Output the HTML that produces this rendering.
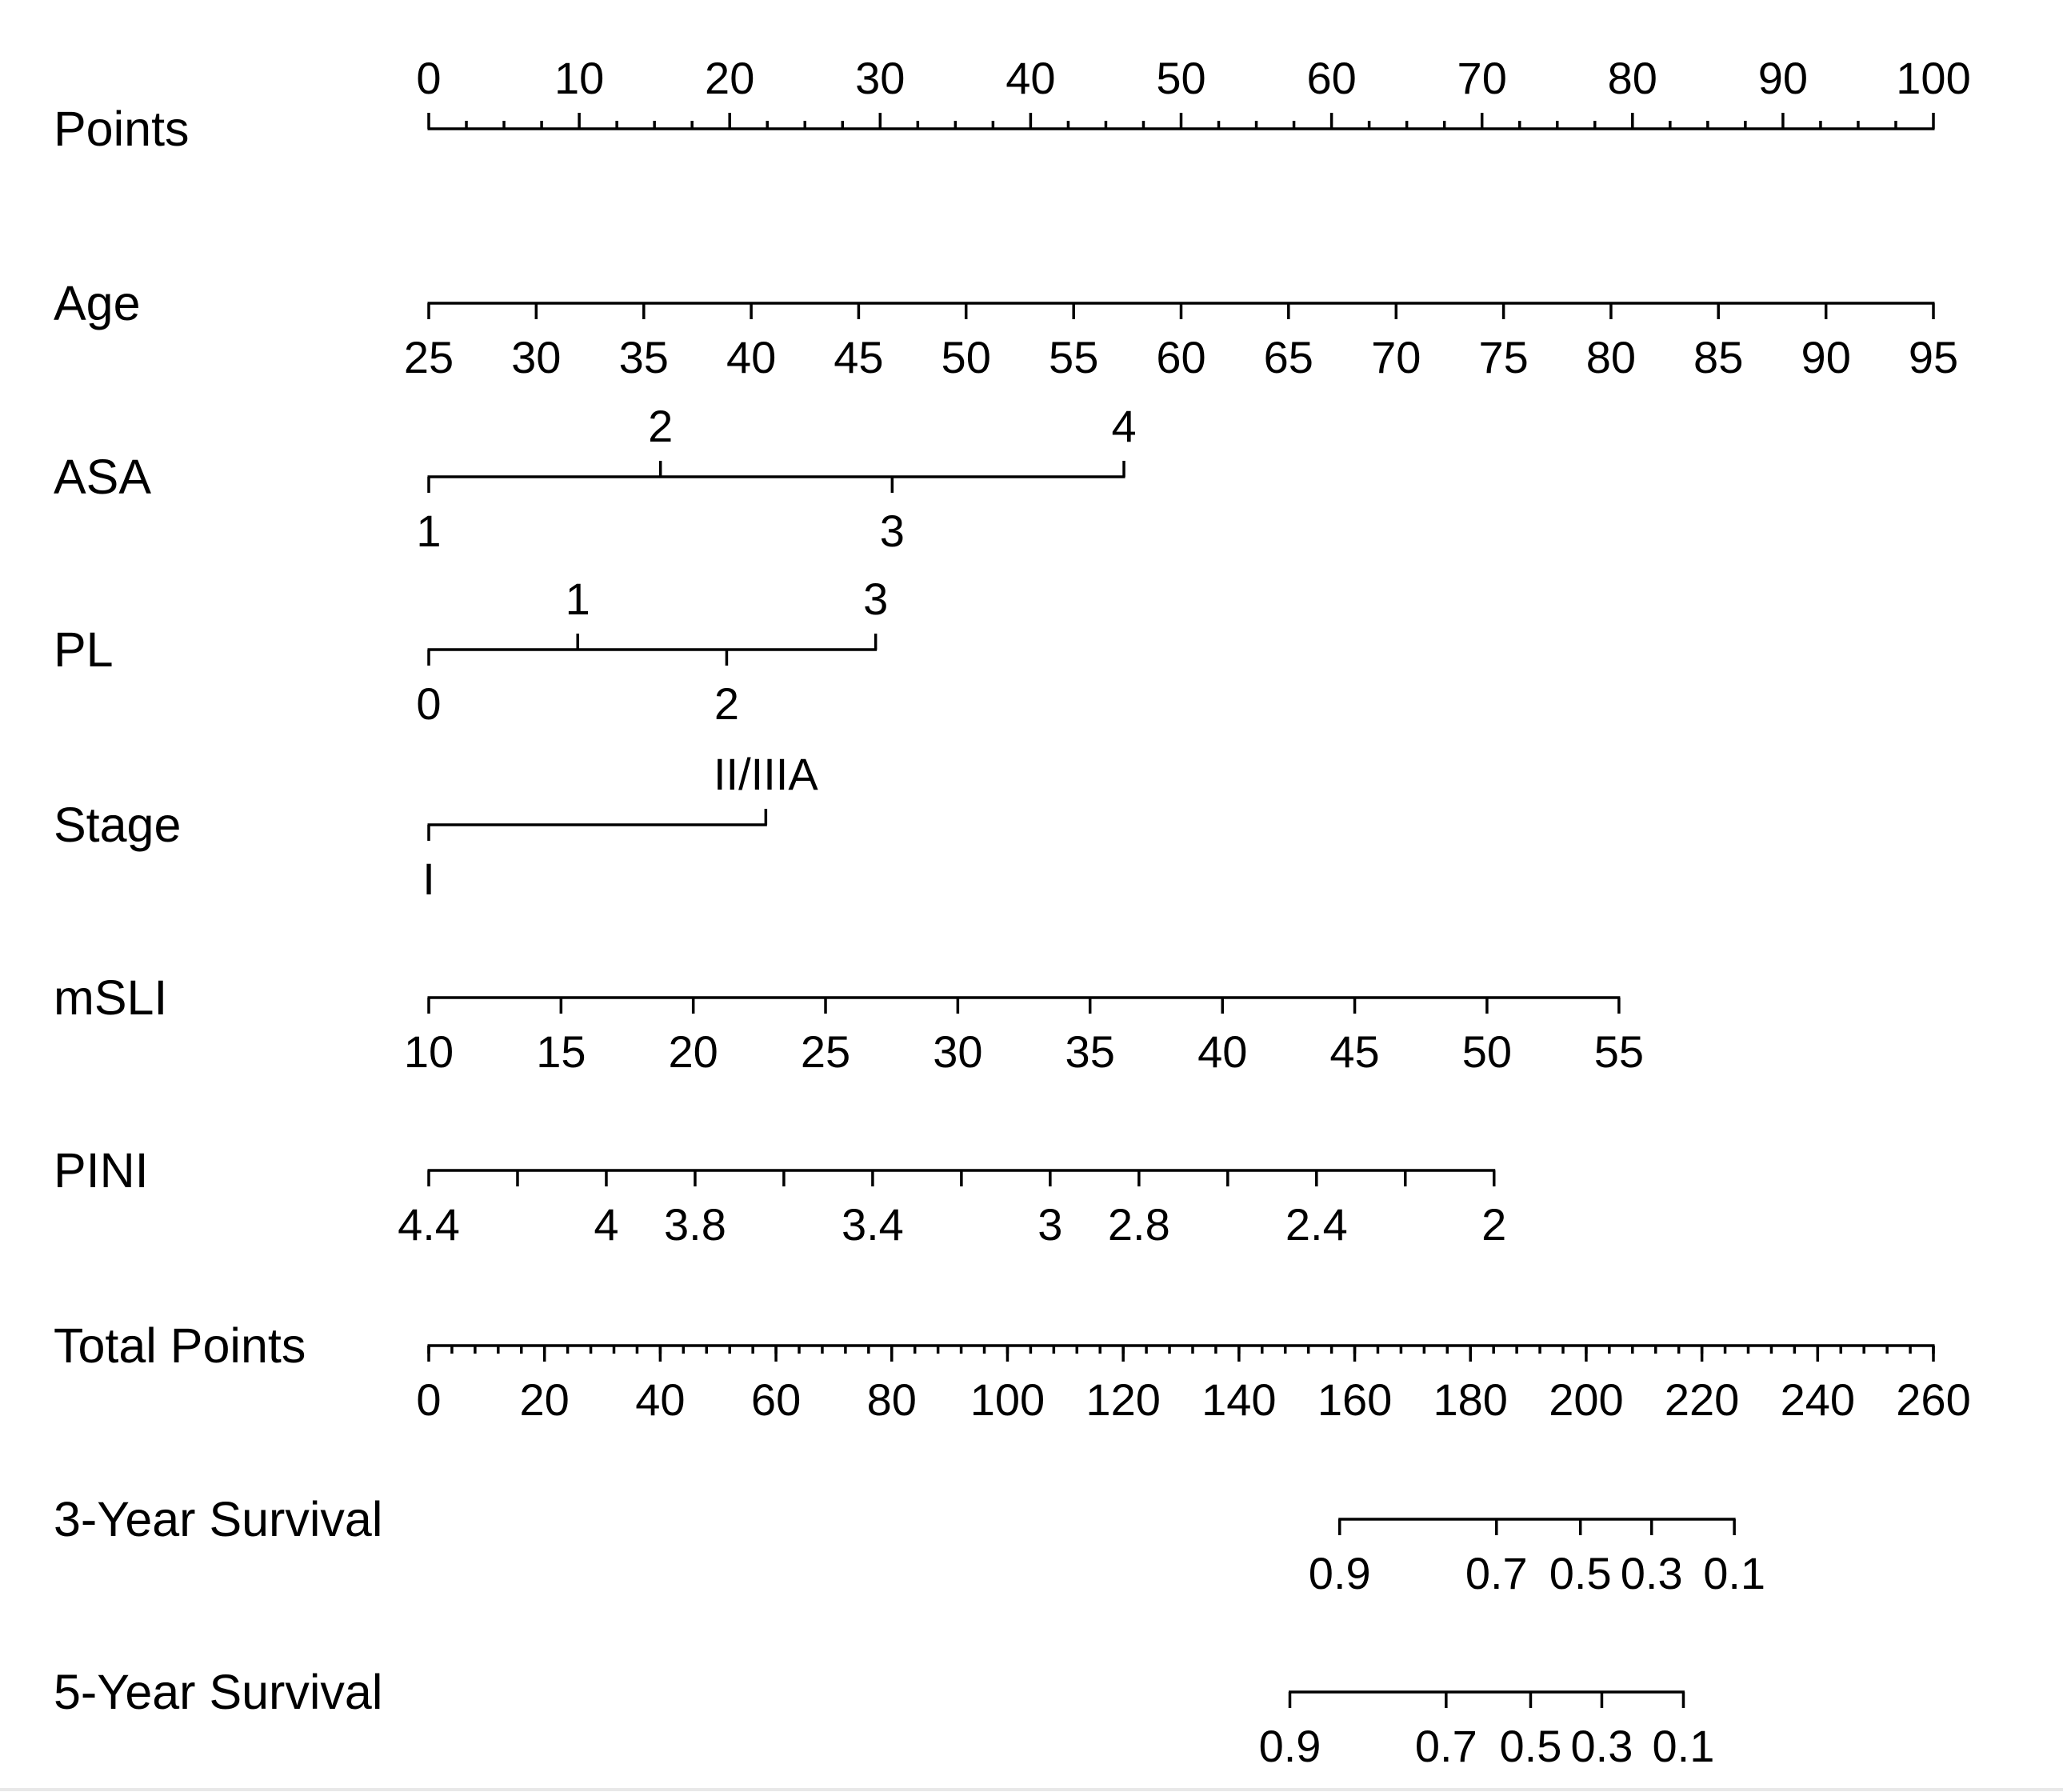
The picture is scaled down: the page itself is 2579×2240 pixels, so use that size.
<!DOCTYPE html>
<html><head><meta charset="utf-8"><style>
html,body{margin:0;padding:0;background:#fff;}
svg{display:block;font-family:"Liberation Sans",Arial,sans-serif;}
</style></head><body>
<svg id="chart" width="2579" height="2240" viewBox="0 0 2579 2240" xmlns="http://www.w3.org/2000/svg">
<rect x="0" y="0" width="2579" height="2240" fill="#fff"/>
<line x1="0" y1="2237" x2="2579" y2="2237" stroke="#e8e8e8" stroke-width="4"/>
</svg>
<script>
// Points scale and total points scale
const pointsTicks = [0,10,20,30,40,50,60,70,80,90,100];
const totalTicks = [0,20,40,60,80,100,120,140,160,180,200,220,240,260];
// Age
const ageValues = [25,30,35,40,45,50,55,60,65,70,75,80,85,90,95];
const agePoints = [0,7.14,14.29,21.43,28.57,35.71,42.86,50,57.14,64.29,71.43,78.57,85.71,92.86,100];
// ASA
const asaLabels = ["1","2","3","4"];
const asaPoints = [0,15.4,30.8,46.2];
// PL
const plLabels = ["0","1","2","3"];
const plPoints = [0,9.9,19.8,29.7];
// Stage
const stageLabels = ["I","II/IIIA"];
const stagePoints = [0,22.4];
// mSLI
const msliValues = [10,15,20,25,30,35,40,45,50,55];
const msliPoints = [0,8.79,17.58,26.37,35.16,43.95,52.75,61.54,70.33,79.1];
// PINI
const piniValues = [4.4,4.2,4,3.8,3.6,3.4,3.2,3,2.8,2.6,2.4,2.2,2];
const piniLabels = ["4.4","","4","3.8","","3.4","","3","2.8","","2.4","","2"];
const piniPoints = [0,5.9,11.8,17.7,23.6,29.5,35.4,41.3,47.2,53.1,59.0,64.9,70.8];
// Survival (in total points)
const survLabels = ["0.9","0.7","0.5","0.3","0.1"];
const surv3Total = [157.4,184.5,199.0,211.3,225.6];
const surv5Total = [148.8,175.8,190.4,202.7,216.8];

const svg = document.getElementById('chart');
const NS = 'http://www.w3.org/2000/svg';
const X0 = 536, X1 = 2417;
const xp = p => X0 + (X1 - X0) * p / 100;
const xt = t => X0 + (X1 - X0) * t / 260;
const SW = 3.5;

function line(x1,y1,x2,y2,name){
  const l = document.createElementNS(NS,'line');
  l.setAttribute('x1',x1);l.setAttribute('y1',y1);l.setAttribute('x2',x2);l.setAttribute('y2',y2);
  l.setAttribute('stroke','#000');l.setAttribute('stroke-width',SW);
  
  
  svg.appendChild(l);
}
function text(x,y,s,size,anchor,name){
  const t = document.createElementNS(NS,'text');
  t.setAttribute('x',x);t.setAttribute('y',y);t.setAttribute('font-size',size);
  t.setAttribute('text-anchor',anchor);t.setAttribute('fill','#000');
  t.textContent = s;
  
  
  svg.appendChild(t);
}
const LF = 61, TF = 56;
function rowLabel(s,y,name){ text(67, y+21, s, LF, 'start', name); }
// tick: dir +1 down, -1 up
function tickLbl(x,y,dir,lab,name){
  line(x,y,x,y+dir*20,name+'-tick');
  if(lab!=='') text(x, dir>0 ? y+87 : y-44, lab, TF, 'middle', name+'-label');
}

// Points row
let y = 161;
rowLabel('Points', y, 'points-row-label');
line(xp(0)-1.5,y,xp(100)+1.5,y,'points-axis-line');
for(let v=0; v<=100; v+=2.5){
  const major = pointsTicks.includes(v);
  line(xp(v),y,xp(v),y-(major?20:10),'points-tick');
}
pointsTicks.forEach(v=>text(xp(v),y-44,String(v),TF,'middle','points-tick-label'));

// Age
y = 379;
rowLabel('Age', y, 'age-row-label');
line(xp(agePoints[0])-1.5,y,xp(agePoints[agePoints.length-1])+1.5,y,'age-axis-line');
ageValues.forEach((v,i)=>tickLbl(xp(agePoints[i]),y,1,String(v),'age'));

// ASA
y = 596;
rowLabel('ASA', y, 'asa-row-label');
line(xp(0)-1.5,y,xp(asaPoints[asaPoints.length-1])+1.5,y,'asa-axis-line');
asaLabels.forEach((s,i)=>tickLbl(xp(asaPoints[i]),y,i%2===0?1:-1,s,'asa'));

// PL
y = 812;
rowLabel('PL', y, 'pl-row-label');
line(xp(0)-1.5,y,xp(plPoints[plPoints.length-1])+1.5,y,'pl-axis-line');
plLabels.forEach((s,i)=>tickLbl(xp(plPoints[i]),y,i%2===0?1:-1,s,'pl'));

// Stage
y = 1031;
rowLabel('Stage', y, 'stage-row-label');
line(xp(0)-1.5,y,xp(stagePoints[1])+1.5,y,'stage-axis-line');
stageLabels.forEach((s,i)=>tickLbl(xp(stagePoints[i]),y,i%2===0?1:-1,s,'stage'));

// mSLI
y = 1247;
rowLabel('mSLI', y, 'msli-row-label');
line(xp(0)-1.5,y,xp(msliPoints[msliPoints.length-1])+1.5,y,'msli-axis-line');
msliValues.forEach((v,i)=>tickLbl(xp(msliPoints[i]),y,1,String(v),'msli'));

// PINI
y = 1463;
rowLabel('PINI', y, 'pini-row-label');
line(xp(0)-1.5,y,xp(piniPoints[piniPoints.length-1])+1.5,y,'pini-axis-line');
piniValues.forEach((v,i)=>tickLbl(xp(piniPoints[i]),y,1,piniLabels[i],'pini'));

// Total Points
y = 1682;
rowLabel('Total Points', y, 'total-points-row-label');
line(xt(0)-1.5,y,xt(260)+1.5,y,'total-points-axis-line');
for(let v=0; v<=260; v+=4){
  line(xt(v),y,xt(v),y+10,'total-points-minor-tick');
}
totalTicks.forEach(v=>tickLbl(xt(v),y,1,String(v),'total-points'));

// 3-Year
y = 1899;
rowLabel('3-Year Survival', y, 'survival-3yr-row-label');
line(xt(surv3Total[0])-1.5,y,xt(surv3Total[surv3Total.length-1])+1.5,y,'survival-3yr-axis-line');
survLabels.forEach((s,i)=>tickLbl(xt(surv3Total[i]),y,1,s,'survival-3yr'));

// 5-Year
y = 2115;
rowLabel('5-Year Survival', y, 'survival-5yr-row-label');
line(xt(surv5Total[0])-1.5,y,xt(surv5Total[surv5Total.length-1])+1.5,y,'survival-5yr-axis-line');
survLabels.forEach((s,i)=>tickLbl(xt(surv5Total[i]),y,1,s,'survival-5yr'));
</script>
</body></html>
